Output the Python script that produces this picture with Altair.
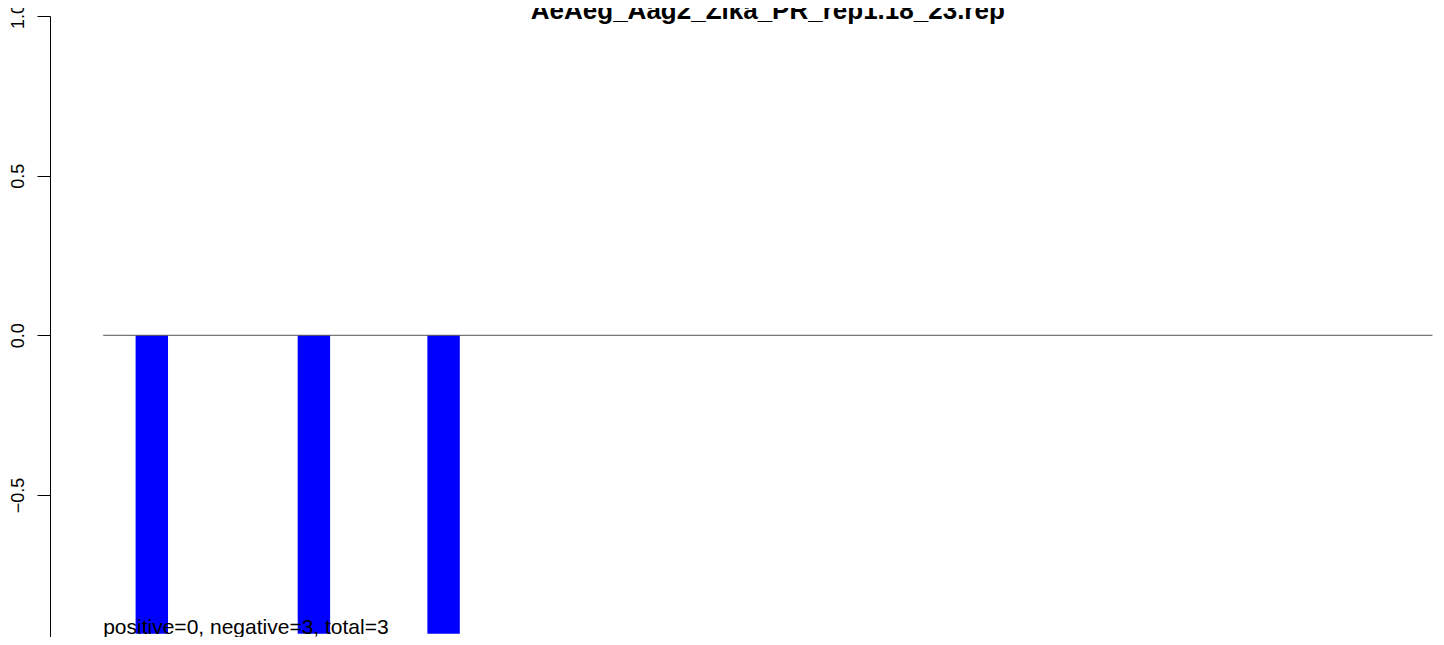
import altair as alt
import pandas as pd

# ---- data ----
n_bins = 41
bar_index = list(range(n_bins))
bar_value = [0.0] * n_bins
for i in (1, 6, 10):
    bar_value[i] = -0.935

y_ticks = [1.0, 0.5, 0.0, -0.5]
title_text = "AeAeg_Aag2_Zika_PR_rep1.18_23.rep"
n_pos, n_neg = 0, 3
note_text = f"positive={n_pos}, negative={n_neg}, total={n_pos + n_neg}"

FONT = "Liberation Sans"

bars = pd.DataFrame({
    "start": bar_index,
    "end": [i + 1 for i in bar_index],
    "value": bar_value,
})
bars = bars[bars["value"] != 0]

base_line = pd.DataFrame({"x0": [0], "x1": [n_bins], "y": [0.0]})
note = pd.DataFrame({"x": [0], "y": [min(bar_value)], "label": [note_text]})
ttl = pd.DataFrame({"x": [n_bins / 2], "label": [title_text]})

xscale = alt.Scale(domain=[-1.64, 41.11], nice=False, zero=False)
yscale = alt.Scale(domain=[-0.9449, 1.0], nice=False, zero=False)

bar_layer = alt.Chart(bars).mark_bar(color="#0000FF", strokeWidth=0).encode(
    x=alt.X("start:Q", scale=xscale, axis=None),
    x2="end:Q",
    y=alt.Y(
        "value:Q",
        scale=yscale,
        axis=alt.Axis(
            values=y_ticks,
            format=".1f",
            title=None,
            grid=False,
            labelAngle=-90,
            labelAlign="center",
            labelBaseline="alphabetic",
            labelPadding=14,
            tickSize=13,
            labelFontSize=18,
            labelFont=FONT,
            labelColor="black",
            domainColor="black",
            tickColor="black",
            domainWidth=1,
            tickWidth=1,
        ),
    ),
    y2=alt.datum(0),
)

rule_layer = alt.Chart(base_line).mark_rule(color="#555555", strokeWidth=1).encode(
    x=alt.X("x0:Q", scale=xscale),
    x2="x1:Q",
    y=alt.Y("y:Q", scale=yscale),
)

note_layer = alt.Chart(note).mark_text(
    align="left", baseline="alphabetic", fontSize=21, font=FONT, color="black"
).encode(
    x=alt.X("x:Q", scale=xscale),
    y=alt.Y("y:Q", scale=yscale),
    text="label:N",
)

title_layer = alt.Chart(ttl).mark_text(
    align="center", baseline="alphabetic", fontSize=26, fontWeight="bold",
    font=FONT, color="black"
).encode(
    x=alt.X("x:Q", scale=xscale),
    y=alt.value(3),
    text="label:N",
)

chart = (
    alt.layer(bar_layer, rule_layer, note_layer, title_layer)
    .properties(
        width=1386,
        height=621,
        autosize=alt.AutoSizeParams(type="none"),
        padding={"left": 42, "top": 8, "right": 0, "bottom": 0},
        background="white",
    )
    .configure_view(stroke=None)
)

chart.save("out.html", embed_options={"renderer": "svg", "actions": False})
